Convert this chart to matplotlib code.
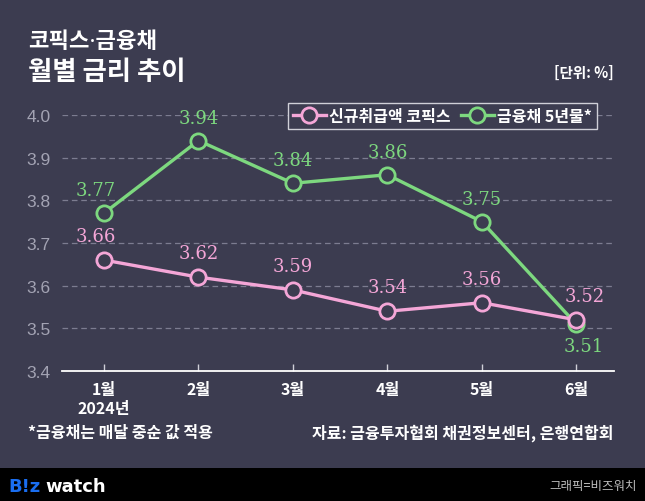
import matplotlib
matplotlib.use("Agg")
import matplotlib.pyplot as plt
from matplotlib.patches import Rectangle

# data
months = ["1월", "2월", "3월", "4월", "5월", "6월"]
cofix = [3.66, 3.62, 3.59, 3.54, 3.56, 3.52]
bond5y = [3.77, 3.94, 3.84, 3.86, 3.75, 3.51]
yticks = [3.4, 3.5, 3.6, 3.7, 3.8, 3.9, 4.0]

BG = "#3c3c50"
PINK = "#f4a6d7"
GREEN = "#7dd87f"
KR = ["Noto Sans CJK KR", "DejaVu Sans"]
KR_NARROWDOT = ["Noto Sans", "Noto Sans CJK KR"]

plt.rcParams["font.family"] = KR

fig = plt.figure(figsize=(6.45, 5.02), dpi=100, facecolor=BG)
ax = fig.add_axes([62 / 645, 130 / 502, 552 / 645, 256 / 502])
ax.set_facecolor(BG)

x = list(range(len(months)))

ax.plot(x, bond5y, color=GREEN, lw=2.4, marker="o", ms=11, mew=2.0,
        mfc=BG, mec=GREEN, zorder=3, label="금융채 5년물*")
ax.plot(x, cofix, color=PINK, lw=2.4, marker="o", ms=11, mew=2.0,
        mfc=BG, mec=PINK, zorder=4, label="신규취급액 코픽스")

# value labels (pixel offsets)
g_off = [(-8, 23), (0, 23), (0, 23), (0, 23), (0, 23), (8, -22)]
p_off = [(-8, 24), (0, 24), (0, 24), (0, 24), (0, 24), (8, 24)]
for i, v in enumerate(bond5y):
    ax.annotate(f"{v:.2f}", (x[i], v), xytext=g_off[i], textcoords="offset pixels",
                ha="center", va="center", color=GREEN, fontsize=13,
                family="DejaVu Serif", zorder=5)
for i, v in enumerate(cofix):
    ax.annotate(f"{v:.2f}", (x[i], v), xytext=p_off[i], textcoords="offset pixels",
                ha="center", va="center", color=PINK, fontsize=13,
                family="DejaVu Serif", zorder=5)

ax.set_xlim(-0.445, 5.40)
ax.set_ylim(3.4, 4.0)
ax.set_yticks(yticks)
ax.set_yticklabels([f"{t:.1f}" for t in yticks], family="Liberation Sans",
                   fontsize=12.5, color="#a3a3b3")
ax.set_xticks(x)
ax.set_xticklabels(months, fontsize=11.5, fontweight="bold", color="white")
ax.tick_params(axis="y", length=0, pad=8)
ax.tick_params(axis="x", direction="in", length=5, width=1, color="#d0d0d8", pad=7)

for t in yticks[1:]:
    ax.axhline(t, color="#7c7c90", lw=0.9, dashes=(4.5, 3), zorder=1)

for s in ["top", "right", "left"]:
    ax.spines[s].set_visible(False)
ax.spines["bottom"].set_color("white")
ax.spines["bottom"].set_linewidth(1.3)
ax.spines["bottom"].set_zorder(2)

# legend
h, l = ax.get_legend_handles_labels()
leg = fig.legend(h[::-1], l[::-1], loc="upper right", ncol=2,
                 bbox_to_anchor=(605 / 645, 1 - 96 / 502),
                 frameon=True, fancybox=False, facecolor=BG, edgecolor="#d0d0d8",
                 framealpha=1, handlelength=2.1, columnspacing=0.6, handletextpad=0.2,
                 borderpad=0.3, prop={"family": KR, "size": 11.5, "weight": "bold"})
leg.get_frame().set_linewidth(1.0)
for t in leg.get_texts():
    t.set_color("white")

# titles
fig.text(28 / 645, 1 - 43 / 502, "코픽스·금융채", fontsize=16, fontweight="bold",
         family=KR_NARROWDOT, color="white", va="center", ha="left")
fig.text(28 / 645, 1 - 73 / 502, "월별 금리 추이", fontsize=19, fontweight="bold",
         color="white", va="center", ha="left")
fig.text(614 / 645, 1 - 73 / 502, "[단위: %]", fontsize=10.5, fontweight="bold",
         color="white", va="center", ha="right")

fig.text(104 / 645, 1 - 409 / 502, "2024년", fontsize=11.5, fontweight="bold",
         color="white", va="center", ha="center")

fig.text(28 / 645, 1 - 433 / 502, "*금융채는 매달 중순 값 적용", fontsize=11.5,
         fontweight="bold", color="white", va="center", ha="left")
fig.text(614 / 645, 1 - 433 / 502, "자료: 금융투자협회 채권정보센터, 은행연합회",
         fontsize=11.5, fontweight="bold", color="white", va="center", ha="right")

# footer band
fig.patches.append(Rectangle((0, 0), 1, 33 / 502, transform=fig.transFigure,
                             facecolor="black", edgecolor="none", zorder=0))
fig.text(8 / 645, 1 - 487 / 502, "B!z", fontsize=13, fontweight="bold",
         family="DejaVu Sans", color="#1a6ef0", va="center", ha="left")
fig.text(45 / 645, 1 - 487 / 502, "watch", fontsize=13, fontweight="bold",
         family="DejaVu Sans", color="white", va="center", ha="left")
fig.text(637 / 645, 1 - 487 / 502, "그래픽=비즈워치", fontsize=9,
         color="#bdbdbd", va="center", ha="right")

fig.savefig("out.png", dpi=100, facecolor=BG)
